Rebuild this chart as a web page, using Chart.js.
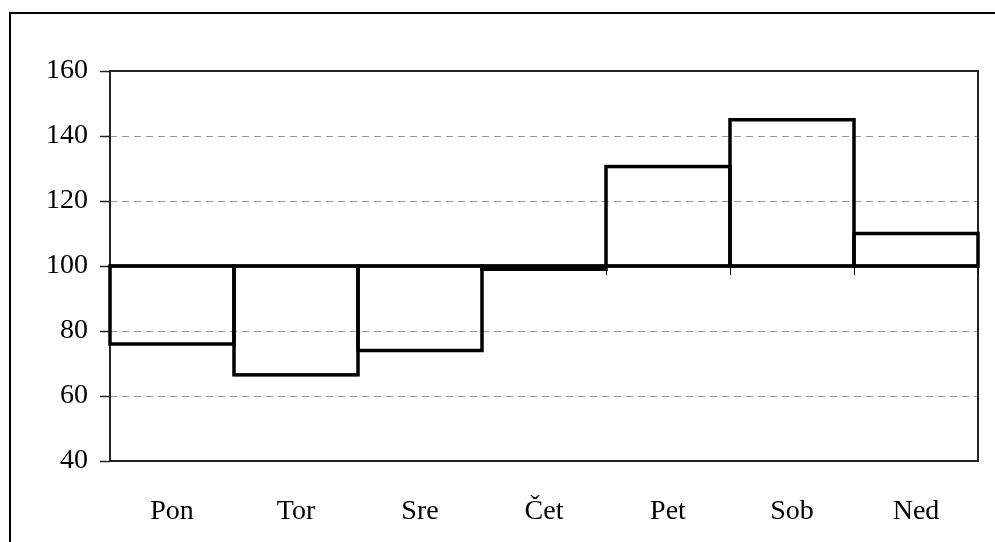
<!DOCTYPE html>
<html>
<head>
<meta charset="utf-8">
<script src="https://cdn.jsdelivr.net/npm/chart.js@4/dist/chart.umd.min.js"></script>
<style>
  html, body { margin: 0; padding: 0; background: #fff; overflow: hidden; }
  #wrap { position: relative; width: 995px; height: 542px; }
  #frame { position: absolute; left: 9px; top: 12px; width: 1100px; height: 700px; border: 2px solid #000; pointer-events: none; }
  canvas { position: absolute; left: 0; top: 0; }
</style>
</head>
<body>
<div id="wrap">
  <canvas id="c" width="995" height="542"></canvas>
  <div id="frame"></div>
</div>
<script>
const categories = ['Pon', 'Tor', 'Sre', 'Čet', 'Pet', 'Sob', 'Ned'];
const baseValue = 100;
const values = [76, 66.5, 74, 99, 130.6, 145, 110];
const yTicks = [40, 60, 80, 100, 120, 140, 160];

const FONT = { family: "'Liberation Serif', 'Times New Roman', serif", size: 28 };

const outlinePlugin = {
  id: 'outline',
  afterDatasetsDraw(chart) {
    const ctx = chart.ctx;
    const area = chart.chartArea;
    const xs = chart.scales.x;
    const ys = chart.scales.y;
    ctx.save();
    // plot frame
    ctx.strokeStyle = '#222';
    ctx.lineWidth = 2;
    ctx.strokeRect(area.left, area.top, area.right - area.left, area.bottom - area.top);
    // axis line at base value
    const yb = ys.getPixelForValue(baseValue);
    ctx.strokeStyle = '#000';
    ctx.lineWidth = 3;
    ctx.beginPath();
    ctx.moveTo(area.left, yb);
    ctx.lineTo(area.right, yb);
    ctx.stroke();
    // category boundary tick marks below axis
    ctx.lineWidth = 1;
    const half = (xs.getPixelForValue(1) - xs.getPixelForValue(0)) / 2;
    for (let i = 0; i <= categories.length; i++) {
      const px = Math.round(xs.getPixelForValue(i) - half) + 0.5;
      ctx.beginPath();
      ctx.moveTo(px, yb);
      ctx.lineTo(px, yb + 9);
      ctx.stroke();
    }
    // bar outlines (from library-computed bar elements)
    const meta = chart.getDatasetMeta(0);
    ctx.lineWidth = 3.5;
    ctx.strokeStyle = '#000';
    ctx.lineJoin = 'miter';
    meta.data.forEach(el => {
      const p = el.getProps(['x', 'y', 'base', 'width'], true);
      const top = Math.min(p.y, p.base);
      const h = Math.abs(p.base - p.y);
      ctx.strokeRect(p.x - p.width / 2, top, p.width, h);
    });
    ctx.restore();
  }
};

new Chart(document.getElementById('c'), {
  type: 'bar',
  data: {
    labels: categories,
    datasets: [{
      data: values.map(v => [baseValue, v]),
      backgroundColor: 'rgba(255,255,255,0)',
      borderWidth: 0,
      barPercentage: 1,
      categoryPercentage: 1
    }]
  },
  options: {
    responsive: false,
    animation: false,
    devicePixelRatio: 1,
    layout: { padding: { left: 0, top: 71, right: 17, bottom: 0 } },
    plugins: { legend: { display: false }, tooltip: { enabled: false }, title: { display: false } },
    scales: {
      x: {
        offset: true,
        grid: { display: false },
        border: { display: false },
        ticks: { color: '#000', font: FONT, padding: 26, maxRotation: 0 },
        afterFit(s) { s.height = 81; }
      },
      y: {
        min: 40,
        max: 160,
        afterBuildTicks(s) { s.ticks = yTicks.map(v => ({ value: v })); },
        grid: {
          color: ctx => (ctx.tick && (ctx.tick.value === 40 || ctx.tick.value === 160)) ? 'rgba(0,0,0,0)' : '#999',
          lineWidth: 1,
          drawTicks: true,
          tickLength: 10,
          tickColor: '#222',
          tickWidth: 1.5
        },
        border: { display: false, dash: [7, 5] },
        ticks: { color: '#000', font: FONT, padding: 12 },
        afterFit(s) { s.width = 110; }
      }
    }
  },
  plugins: [outlinePlugin]
});
</script>
</body>
</html>
